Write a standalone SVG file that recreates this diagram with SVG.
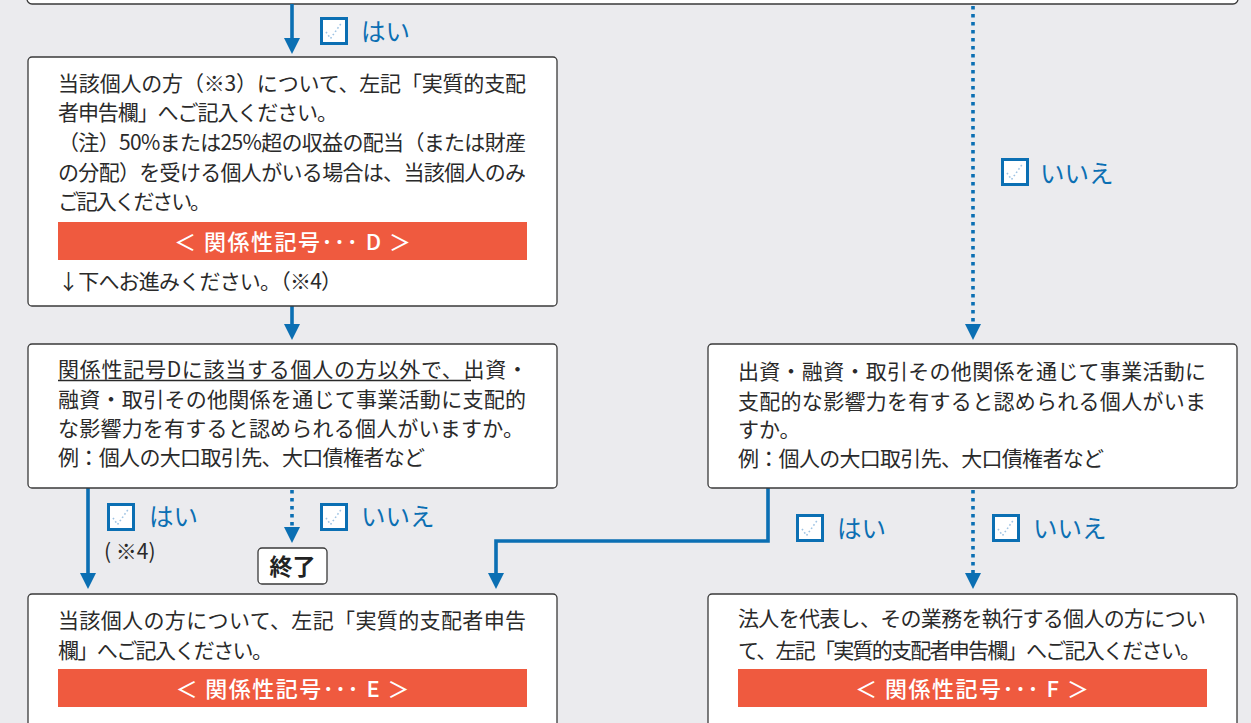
<svg xmlns="http://www.w3.org/2000/svg" width="1251" height="723" viewBox="0 0 1251 723">
<style>
.bg{fill:#ebebee}
.box{fill:#fff;stroke:#3a3a3a;stroke-width:1.3}
.t{font-family:"Noto Sans CJK JP","Noto Sans CJK SC",sans-serif;font-size:21px;fill:#2a2a2a}
.bar{fill:#ef5a3f}
.bt{font-family:"Noto Sans CJK JP",sans-serif;font-size:22px;fill:#fff;font-weight:500;text-anchor:middle}
.lbl{font-family:"Noto Sans CJK JP",sans-serif;font-size:24.5px;fill:#0b6fb3;font-weight:400}
.solid{fill:none;stroke:#0b6fb3;stroke-width:3.6}
.dot{fill:none;stroke:#0b6fb3;stroke-width:3.6;stroke-dasharray:3.6 4.4}
.end{font-family:"Noto Sans CJK JP",sans-serif;font-size:23px;font-weight:700;fill:#222;text-anchor:middle}
</style>
<defs>
<marker id="ah" viewBox="0 -8 16 16" refX="0" refY="0" markerWidth="16" markerHeight="16" markerUnits="userSpaceOnUse" orient="auto">
<path d="M0,-8 L16,0 L0,8 z" fill="#0b6fb3"/>
</marker>
<symbol id="chk" viewBox="0 0 28 28">
<rect x="1.5" y="1.5" width="25" height="25" fill="#fff" stroke="#0b6fb3" stroke-width="3"/>
<polyline points="6,15 10.5,21.5 21.5,6" fill="none" stroke="#9fc3e3" stroke-width="1.6" stroke-dasharray="1.6 2.4"/>
</symbol>
</defs>
<rect class="bg" x="0" y="0" width="1251" height="723"/>

<g id="top">
<rect class="box" x="27" y="-30" width="1211" height="34" rx="5"/>
</g>

<g id="connectors">
<path class="solid" d="M292,4 V38" marker-end="url(#ah)"/>
<path class="dot" d="M973,6 V324" marker-end="url(#ah)"/>
<path class="solid" d="M292,306 V324" marker-end="url(#ah)"/>
<path class="solid" d="M88,488 V573" marker-end="url(#ah)"/>
<path class="dot" d="M292,490 V527" marker-end="url(#ah)"/>
<path class="solid" d="M768,488 V541 H496 V573" marker-end="url(#ah)"/>
<path class="dot" d="M973,490 V573" marker-end="url(#ah)"/>
</g>

<g id="labels">
<use href="#chk" x="320" y="17" width="28" height="28"/>
<text class="lbl" x="361" y="41">はい</text>
<use href="#chk" x="1001" y="158" width="28" height="28"/>
<text class="lbl" x="1040" y="183">いいえ</text>
<use href="#chk" x="107" y="503" width="28" height="28"/>
<text class="lbl" x="149" y="526">はい</text>
<text class="t" x="104" y="559">( ※4)</text>
<use href="#chk" x="320" y="503" width="28" height="28"/>
<text class="lbl" x="361" y="526">いいえ</text>
<use href="#chk" x="796" y="514" width="28" height="28"/>
<text class="lbl" x="837" y="538">はい</text>
<use href="#chk" x="992" y="514" width="28" height="28"/>
<text class="lbl" x="1033" y="538">いいえ</text>
</g>

<g id="box1">
<rect class="box" x="28" y="57" width="529" height="249" rx="4"/>
<text class="t" x="58" y="91" textLength="468" lengthAdjust="spacing">当該個人の方（※3）について、左記「実質的支配</text>
<text class="t" x="58" y="120" textLength="280" lengthAdjust="spacing">者申告欄」へご記入ください。</text>
<text class="t" x="58" y="150" textLength="468" lengthAdjust="spacing">（注）50%または25%超の収益の配当（または財産</text>
<text class="t" x="58" y="180" textLength="468" lengthAdjust="spacing">の分配）を受ける個人がいる場合は、当該個人のみ</text>
<text class="t" x="58" y="209" textLength="153" lengthAdjust="spacing">ご記入ください。</text>
<rect class="bar" x="58" y="222" width="469" height="38"/>
<text class="bt" x="292.5" y="250" textLength="237" lengthAdjust="spacing">＜ 関係性記号･･･ D ＞</text>
<text class="t" x="58" y="289" textLength="284" lengthAdjust="spacing">↓下へお進みください。（※4）</text>
</g>

<g id="box2">
<rect class="box" x="28" y="344" width="529" height="144" rx="4"/>
<text class="t" x="58" y="377" textLength="470" lengthAdjust="spacing">関係性記号Dに該当する個人の方以外で、出資・</text>
<line x1="58" y1="380.5" x2="471" y2="380.5" stroke="#2a2a2a" stroke-width="1.6"/>
<text class="t" x="58" y="407" textLength="468" lengthAdjust="spacing">融資・取引その他関係を通じて事業活動に支配的</text>
<text class="t" x="58" y="436" textLength="466" lengthAdjust="spacing">な影響力を有すると認められる個人がいますか。</text>
<text class="t" x="58" y="465" textLength="367" lengthAdjust="spacing">例：個人の大口取引先、大口債権者など</text>
</g>

<g id="end">
<rect class="box" x="258" y="548" width="69" height="36" rx="4"/>
<text class="end" x="292.5" y="575">終了</text>
</g>

<g id="box3">
<rect class="box" x="28" y="594" width="529" height="150" rx="4"/>
<text class="t" x="58" y="628" textLength="468" lengthAdjust="spacing">当該個人の方について、左記「実質的支配者申告</text>
<text class="t" x="58" y="658" textLength="215" lengthAdjust="spacing">欄」へご記入ください。</text>
<rect class="bar" x="58" y="669" width="469" height="38"/>
<text class="bt" x="292.5" y="697" textLength="234" lengthAdjust="spacing">＜ 関係性記号･･･ E ＞</text>
</g>

<g id="box4">
<rect class="box" x="708" y="344" width="529" height="144" rx="4"/>
<text class="t" x="738" y="379" textLength="468" lengthAdjust="spacing">出資・融資・取引その他関係を通じて事業活動に</text>
<text class="t" x="738" y="409" textLength="468" lengthAdjust="spacing">支配的な影響力を有すると認められる個人がいま</text>
<text class="t" x="738" y="437">すか。</text>
<text class="t" x="738" y="466" textLength="366" lengthAdjust="spacing">例：個人の大口取引先、大口債権者など</text>
</g>

<g id="box5">
<rect class="box" x="708" y="594" width="529" height="150" rx="4"/>
<text class="t" x="738" y="626" textLength="468" lengthAdjust="spacing">法人を代表し、その業務を執行する個人の方につい</text>
<text class="t" x="738" y="658" textLength="463" lengthAdjust="spacing">て、左記「実質的支配者申告欄」へご記入ください。</text>
<rect class="bar" x="738" y="669" width="469" height="38"/>
<text class="bt" x="972" y="697" textLength="234" lengthAdjust="spacing">＜ 関係性記号･･･ F ＞</text>
</g>
</svg>
